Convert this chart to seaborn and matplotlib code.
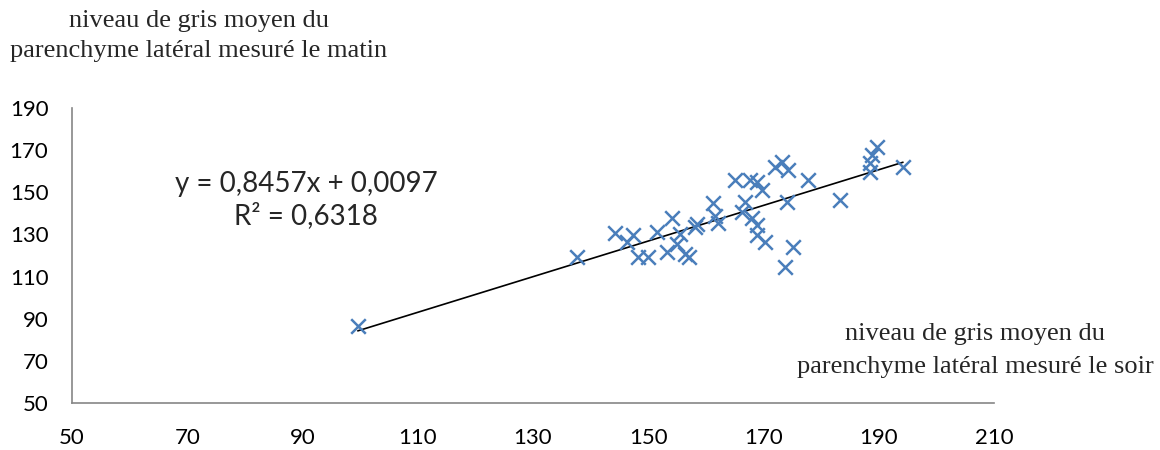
import matplotlib
matplotlib.use("Agg")
import matplotlib.pyplot as plt
import numpy as np
import pandas as pd
import seaborn as sns

# Mean grey level of the lateral parenchyma: evening (x) vs morning (y)
soir = [99.6, 137.6, 144.2, 146.3, 147.4, 148.2, 150.0, 151.5, 153.3, 154.1,
        155.0, 155.5, 156.3, 157.0, 158.1, 158.5, 161.2, 161.6, 162.1, 165.1,
        166.8, 166.3, 167.7, 168.0, 168.9, 168.9, 168.9, 169.7, 170.3, 172.0,
        173.2, 174.3, 174.1, 175.1, 173.7, 177.7, 183.3, 188.5, 188.5, 188.8,
        189.7, 194.2]
matin = [86.5, 119.2, 130.5, 126.3, 129.6, 119.2, 119.2, 131.0, 121.6, 137.6,
         125.4, 130.1, 120.6, 119.2, 133.4, 134.8, 144.7, 138.6, 135.3, 155.6,
         145.2, 140.5, 155.6, 137.6, 154.7, 134.3, 129.6, 150.9, 126.3, 161.8,
         164.2, 160.4, 145.2, 123.9, 114.4, 155.6, 146.2, 159.4, 163.7, 167.5,
         171.3, 161.8]

# Linear trend line coefficients
pente = 0.8457
ordonnee = 0.0097
r2 = 0.6318

x_ticks = [50, 70, 90, 110, 130, 150, 170, 190, 210]
y_ticks = [50, 70, 90, 110, 130, 150, 170, 190]

df = pd.DataFrame({"soir": soir, "matin": matin})

sns.set_style("white")
plt.rcParams["font.family"] = ["Lato", "DejaVu Sans"]

fig = plt.figure(figsize=(11.6, 4.5), dpi=100)
ax = fig.add_axes([72 / 1160, 1 - 403 / 450, (994 - 72) / 1160, (403 - 108) / 450])

sns.scatterplot(data=df, x="soir", y="matin", ax=ax, marker="x", s=110,
                color="#4A7EBB", linewidth=1.8, zorder=3)

xl = np.array([min(soir), max(soir)])
ax.plot(xl, pente * xl + ordonnee, color="black", linewidth=1.2, zorder=2)

ax.set_xlim(50, 210)
ax.set_ylim(50, 190)
ax.set_xticks(x_ticks)
ax.set_yticks(y_ticks)
ax.set_xlabel("")
ax.set_ylabel("")

axis_gray = "#868686"
for side in ["top", "right"]:
    ax.spines[side].set_visible(False)
for side in ["left", "bottom"]:
    ax.spines[side].set_color(axis_gray)
    ax.spines[side].set_linewidth(1.2)
ax.tick_params(axis="both", direction="out", length=5, width=1.2,
               color=axis_gray, labelsize=16, labelcolor="black", pad=12)
ax.tick_params(axis="x", pad=13)

eq = f"y = {pente:.4f}x + {ordonnee:.4f}".replace(".", ",")
r2_txt = f"R² = {r2:.4f}".replace(".", ",")
ax.text(0.254, 0.688, eq + "\n" + r2_txt, transform=ax.transAxes,
        ha="center", va="center", fontsize=20, linespacing=1.25)

serif = ["Liberation Serif", "DejaVu Serif"]
fig.text(199 / 1160, 1 - 36 / 450,
         "niveau de gris moyen du\nparenchyme latéral mesuré le matin",
         ha="center", va="center", fontsize=19, family=serif, linespacing=1.5)
fig.text(975 / 1160, 1 - 350.5 / 450,
         "niveau de gris moyen du\nparenchyme latéral mesuré le soir",
         ha="center", va="center", fontsize=19, family=serif, linespacing=1.6)

fig.savefig("out.png", dpi=100)
